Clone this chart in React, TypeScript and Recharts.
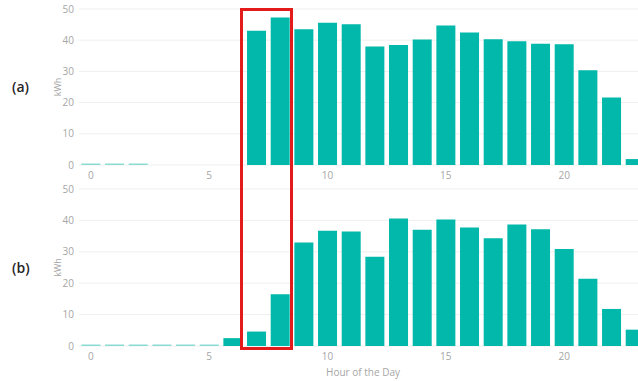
import { Bar, BarChart, CartesianGrid, Cell, XAxis, YAxis } from "recharts"

const hours = [0, 1, 2, 3, 4, 5, 6, 7, 8, 9, 10, 11, 12, 13, 14, 15, 16, 17, 18, 19, 20, 21, 22, 23]

// (a) hourly energy, kWh
const usageA = [0, 0, 0, null, null, null, null, 43, 47.3, 43.5, 45.6, 45.1, 38, 38.5, 40.2, 44.7, 42.5, 40.3, 39.7, 38.9, 38.7, 30.4, 21.6, 1.9]
// (b) hourly energy, kWh
const usageB = [0, 0, 0, 0, 0, 0, 2.5, 4.6, 16.5, 33, 36.7, 36.5, 28.4, 40.6, 37, 40.3, 37.7, 34.3, 38.7, 37.2, 30.9, 21.4, 11.8, 5.2]

const yTicks = [0, 10, 20, 30, 40, 50]

const TEAL = "#01b8aa"
const TEAL_LIGHT = "#8adbd2"
const FONT = "'Open Sans', 'DejaVu Sans', sans-serif"
const tickStyle = { fill: "#a6a6a6", fontSize: 10, fontFamily: FONT }

type PanelProps = {
  values: (number | null)[]
  tag: string
  top: number
  height: number
  axisHeight: number
  xTitle?: string
}

function Panel({ values, tag, top, height, axisHeight, xTitle }: PanelProps) {
  const data = hours.map((h, i) => ({ hour: h, kwh: values[i] }))
  const plotTop = 9
  const plotBottom = height - axisHeight
  return (
    <div style={{ position: "absolute", left: 0, top, width: 660, height }}>
      <BarChart width={660} height={height} data={data} margin={{ top: plotTop, right: 13, left: 0, bottom: 0 }}>
        <CartesianGrid vertical={false} stroke="#efefef" />
        <XAxis
          dataKey="hour"
          interval={4}
          tickLine={false}
          axisLine={false}
          tickSize={0}
          tickMargin={7}
          height={axisHeight}
          tick={tickStyle}
          label={
            xTitle
              ? { value: xTitle, position: "insideBottom", offset: 5, fill: "#a6a6a6", fontSize: 10, fontFamily: FONT }
              : undefined
          }
        />
        <YAxis
          width={79}
          domain={[0, 50]}
          ticks={yTicks}
          tickLine={false}
          axisLine={false}
          tickSize={0}
          tickMargin={5}
          tick={tickStyle}
        />
        <Bar
          dataKey="kwh"
          isAnimationActive={false}
          minPointSize={(v: number | null) => (v === 0 ? 1.5 : 0)}
        >
          {values.map((v, i) => (
            <Cell key={i} fill={v === 0 ? TEAL_LIGHT : TEAL} />
          ))}
        </Bar>
        <text
          x={57}
          y={(plotTop + plotBottom) / 2}
          transform={`rotate(-90 57 ${(plotTop + plotBottom) / 2})`}
          textAnchor="middle"
          dominantBaseline="central"
          fill="#a6a6a6"
          fontSize={9}
          fontFamily={FONT}
        >
          kWh
        </text>
      </BarChart>
      <div
        style={{
          position: "absolute",
          left: 12,
          top: (plotTop + plotBottom) / 2 - 10,
          fontFamily: FONT,
          fontSize: 14,
          fontWeight: 600,
          color: "#262626",
        }}
      >
        {tag}
      </div>
    </div>
  )
}

export default function App() {
  return (
    <div
      style={{
        position: "fixed",
        left: 0,
        top: 0,
        width: 638,
        height: 381,
        overflow: "hidden",
        background: "#fff",
      }}
    >
      <Panel values={usageA} tag="(a)" top={0} height={186} axisHeight={21} />
      <Panel values={usageB} tag="(b)" top={180} height={201} axisHeight={35} xTitle="Hour of the Day" />
      {/* highlight box around hours 7-8 */}
      <div
        style={{
          position: "absolute",
          left: 240,
          top: 8,
          width: 53,
          height: 342,
          border: "3px solid #e31b1b",
          boxSizing: "border-box",
        }}
      />
    </div>
  )
}
